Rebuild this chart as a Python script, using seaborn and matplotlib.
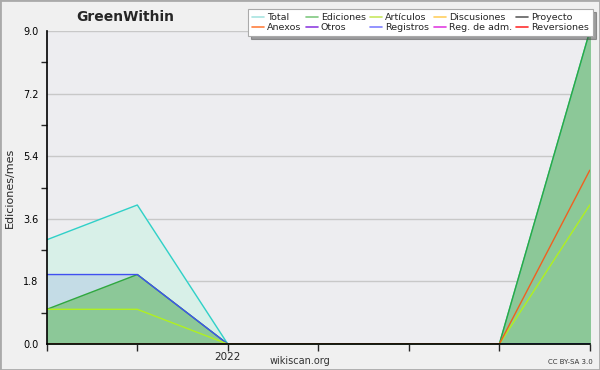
import matplotlib
matplotlib.use("Agg")
import matplotlib.pyplot as plt
import numpy as np
import pandas as pd
import seaborn as sns
from matplotlib.lines import Line2D
from matplotlib.ticker import MultipleLocator, FormatStrFormatter

# monthly edits, 7 months; "2022" marks the third one
months = [0, 1, 2, 3, 4, 5, 6]
month_labels = ["", "", "2022", "", "", "", ""]
total = [3, 4, 0, 0, 0, 0, 9]
ediciones = [1, 2, 0, 0, 0, 0, 9]
articulos = [1, 1, 0, 0, 0, 0, 4]
registros = [2, 2, 0, 0, 0, 0, 0]
anexos = [0, 0, 0, 0, 0, 0, 5]

legend_names = ["Total", "Ediciones", "Artículos", "Discusiones", "Proyecto",
                "Anexos", "Otros", "Registros", "Reg. de adm.", "Reversiones"]
legend_colors = ["#a8e4e0", "#80c880", "#c8e860", "#ffd060", "#606060",
                 "#ff8040", "#9040e0", "#8080ff", "#e040e0", "#ff3030"]

sns.set_style("white")
plt.rcParams["font.family"] = ["DejaVu Sans"]

fig = plt.figure(figsize=(6, 3.7), dpi=100, facecolor="#f0f0f0")
ax = fig.add_axes([0.078, 0.07, 0.905, 0.846])
ax.set_facecolor("#ededf0")

df = pd.DataFrame({"month": months, "Total": total, "Ediciones": ediciones,
                   "Artículos": articulos, "Registros": registros, "Anexos": anexos})

# filled areas, back to front
ax.fill_between(df["month"], df["Total"], color="#d8f0e8", zorder=1)
ax.fill_between(df["month"], df["Registros"], color="#c4dce6", zorder=2)
ax.fill_between(df["month"], df["Ediciones"], color="#8cc898", zorder=3)

line_specs = [("Total", "#30d0c8"), ("Ediciones", "#30a840"), ("Registros", "#4050f0"),
              ("Artículos", "#b0f020"), ("Anexos", "#f06020")]
for name, color in line_specs:
    sns.lineplot(data=df, x="month", y=name, color=color, linewidth=1.0, ax=ax, zorder=5)

ax.set_xlim(0, 6)
ax.set_ylim(0, 9)
ax.yaxis.set_major_locator(MultipleLocator(1.8))
ax.yaxis.set_minor_locator(MultipleLocator(0.9))
ax.yaxis.set_major_formatter(FormatStrFormatter("%.1f"))
ax.set_xticks(months)
ax.set_xticklabels(month_labels)
ax.grid(axis="y", color="#c8c8c8", linewidth=1.0, zorder=0)
ax.set_axisbelow(True)
ax.tick_params(axis="y", which="major", length=5, width=1, labelsize=7, colors="black", pad=1)
ax.tick_params(axis="y", which="minor", length=4, width=1, left=True)
ax.tick_params(axis="x", length=5, width=1, labelsize=7.5, pad=1, direction="out", bottom=True)
for s in ["top", "right"]:
    ax.spines[s].set_visible(False)
for s in ["left", "bottom"]:
    ax.spines[s].set_color("black")
    ax.spines[s].set_linewidth(1.2)
    ax.spines[s].set_zorder(6)
ax.set_xlabel("")
ax.set_ylabel("Ediciones/mes", fontsize=8, labelpad=6)

fig.text(0.208, 0.955, "GreenWithin", fontsize=10, fontweight="bold", ha="center", va="center")
fig.text(0.5, 0.024, "wikiscan.org", fontsize=7, ha="center", va="center", color="#333333")
fig.text(0.95, 0.022, "CC BY-SA 3.0", fontsize=5, ha="center", va="center", color="#333333")

# legend: 5 columns, filled column-wise
order = [0, 5, 1, 6, 2, 7, 3, 8, 4, 9]
handles = [Line2D([0], [0], color=legend_colors[i], linewidth=1.2) for i in order]
labels = [legend_names[i] for i in order]
leg = fig.legend(handles, labels, ncol=5, loc="upper right", bbox_to_anchor=(0.988, 0.975),
                 fontsize=6.8, frameon=True, fancybox=False, shadow=True,
                 handlelength=1.3, handletextpad=0.3, columnspacing=0.45,
                 labelspacing=0.12, borderpad=0.4, borderaxespad=0)
leg.get_frame().set_edgecolor("#aaaaaa")
leg.get_frame().set_facecolor("white")
leg.get_frame().set_linewidth(0.8)

# outer border
fig.patches.append(plt.Rectangle((0, 0), 1, 1, transform=fig.transFigure, fill=False,
                                 edgecolor="#aaaaaa", linewidth=2))

fig.savefig("out.png", dpi=100, facecolor=fig.get_facecolor())
